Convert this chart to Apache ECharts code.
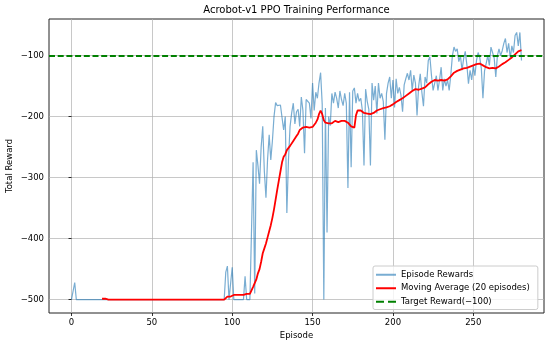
<!DOCTYPE html>
<html><head><meta charset="utf-8">
<script src="https://cdn.jsdelivr.net/npm/echarts@6/dist/echarts.min.js"></script>
<style>html,body{margin:0;padding:0;background:#fff}#c{width:550px;height:346px}</style>
</head><body><div id="c"></div>
<script>
const TITLE = 'Acrobot-v1 PPO Training Performance';
const X_LABEL = 'Episode';
const Y_LABEL = 'Total Reward';
const X_TICKS = [0, 50, 100, 150, 200, 250];
const Y_TICKS = [-500, -400, -300, -200, -100];
const TARGET = -100;
const MA_START = 19; // first episode of the 20-episode moving average
const SERIES_NAMES = ['Episode Rewards', 'Moving Average (20 episodes)', 'Target Reward(\u2212100)'];

// episodes 0..280
const episodeRewards = [
  -500,-500,-472,-500,-500,-500,-500,-500,-500,-500, // 0
  -500,-500,-500,-500,-500,-500,-500,-500,-500,-500, // 10
  -500,-500,-500,-500,-500,-500,-500,-500,-500,-500, // 20
  -500,-500,-500,-500,-500,-500,-500,-500,-500,-500, // 30
  -500,-500,-500,-500,-500,-500,-500,-500,-500,-500, // 40
  -500,-500,-500,-500,-500,-500,-500,-500,-500,-500, // 50
  -500,-500,-500,-500,-500,-500,-500,-500,-500,-500, // 60
  -500,-500,-500,-500,-500,-500,-500,-500,-500,-500, // 70
  -500,-500,-500,-500,-500,-500,-500,-500,-500,-500, // 80
  -500,-500,-500,-500,-500,-500,-455,-445,-500,-500, // 90
  -447,-500,-500,-500,-500,-500,-500,-500,-462,-500, // 100
  -500,-500,-500,-275,-490,-255,-280,-310,-250,-216, // 110
  -290,-333,-270,-230,-271,-240,-200,-177,-182,-184, // 120
  -181,-180,-222,-200,-358,-271,-216,-194,-178,-212, // 130
  -192,-188,-216,-168,-190,-260,-172,-170,-178,-203, // 140
  -145,-190,-160,-170,-145,-128,-180,-500,-186,-390, // 150
  -200,-215,-162,-178,-160,-170,-186,-158,-172,-182, // 160
  -162,-178,-317,-160,-283,-158,-153,-178,-162,-175, // 170
  -170,-190,-280,-155,-175,-188,-280,-145,-173,-150, // 180
  -195,-145,-170,-162,-175,-238,-162,-145,-135,-170, // 190
  -140,-185,-138,-162,-152,-165,-192,-148,-138,-129, // 200
  -140,-124,-157,-132,-145,-198,-150,-130,-160,-183, // 210
  -135,-145,-108,-102,-133,-157,-145,-133,-157,-140, // 220
  -119,-157,-138,-150,-140,-157,-132,-100,-86,-93,   // 230
  -89,-110,-100,-124,-105,-93,-115,-146,-124,-140,   // 240
  -116,-133,-108,-95,-103,-121,-170,-125,-113,-100,  // 250
  -116,-86,-88,-104,-135,-100,-89,-100,-92,-80,      // 260
  -72,-95,-80,-104,-84,-95,-67,-62,-84,-62,          // 270
  -108                                               // 280
];

// episodes 19..280
const movingAverage = [
  -498.6,                                                            // 19
  -498.6,-498.6,-500,-500,-500,-500,-500,-500,-500,-500,             // 20
  -500,-500,-500,-500,-500,-500,-500,-500,-500,-500,                 // 30
  -500,-500,-500,-500,-500,-500,-500,-500,-500,-500,                 // 40
  -500,-500,-500,-500,-500,-500,-500,-500,-500,-500,                 // 50
  -500,-500,-500,-500,-500,-500,-500,-500,-500,-500,                 // 60
  -500,-500,-500,-500,-500,-500,-500,-500,-500,-500,                 // 70
  -500,-500,-500,-500,-500,-500,-500,-500,-500,-500,                 // 80
  -500,-500,-500,-500,-500,-500,-497.8,-495,-495,-495,               // 90
  -492.4,-492.4,-492.4,-492.4,-492.4,-492.4,-492.4,-492.4,-490.5,-490.5, // 100
  -490.5,-490.5,-490.5,-479,-478.5,-467,-457,-450,-438,-424,         // 110
  -416,-408,-398,-388,-378,-366,-352,-336,-320,-305,                 // 120
  -290,-275,-266,-262,-255,-252,-248,-246,-240,-238,                 // 130
  -232,-228,-222,-220,-218,-218,-217,-217,-218,-218,                 // 140
  -217,-214,-210,-205,-196,-190,-196,-206,-210,-212,                 // 150
  -211,-212,-211,-209,-207,-208,-209,-208,-207,-208,                 // 160
  -207,-208,-210,-212,-216,-219,-218,-198,-190,-188,                 // 170
  -190,-192,-194,-193,-195,-194,-196,-193,-194,-192,                 // 180
  -190,-188,-188,-187,-186,-186,-185,-184,-183,-182,                 // 190
  -180,-178,-176,-175,-173,-171,-170,-168,-166,-164,                 // 200
  -162,-160,-158,-157,-155,-155,-156,-155,-154,-154,                 // 210
  -152,-150,-147,-145,-143,-141,-140,-140,-141,-141,                 // 220
  -140,-141,-141,-140,-139,-137,-134,-131,-128,-126,                 // 230
  -125,-124,-123,-122,-121,-120,-120,-119,-118,-117,                 // 240
  -116,-115,-114,-114,-113,-114,-116,-118,-119,-120,                 // 250
  -121,-121,-120,-120,-121,-120,-118,-116,-114,-113,                 // 260
  -111,-109,-107,-105,-103,-101,-98,-95,-93,-91,                     // 270
  -91                                                                // 280
];

const FONT = 'DejaVu Sans';
const fmt = v => (v < 0 ? '\u2212' + Math.abs(v) : String(v));

const chart = echarts.init(document.getElementById('c'), null, {renderer: 'canvas'});
chart.setOption({
  animation: false,
  backgroundColor: '#fff',
  grid: {left: 49, right: 6, top: 19, bottom: 33, show: true, borderColor: '#222', borderWidth: 1, backgroundColor: 'transparent'},
  graphic: [
    {type: 'text', x: 296.5, y: 10, style: {text: TITLE, font: '10px "DejaVu Sans"', fill: '#000', align: 'center', verticalAlign: 'middle'}},
    {type: 'text', x: 296.5, y: 336, style: {text: X_LABEL, font: '8.5px "DejaVu Sans"', fill: '#000', align: 'center', verticalAlign: 'middle'}},
    {type: 'text', x: 10, y: 166, rotation: Math.PI / 2, style: {text: Y_LABEL, font: '8.5px "DejaVu Sans"', fill: '#000', align: 'center', verticalAlign: 'middle'}}
  ],
  legend: {
    orient: 'vertical', left: 373, top: 266,
    data: [
      {name: SERIES_NAMES[0], icon: 'rect'},
      {name: SERIES_NAMES[1], icon: 'rect'},
      {name: SERIES_NAMES[2], icon: 'path://M0,0h8v2h-8zM12,0h8v2h-8z'}
    ],
    itemWidth: 20, itemHeight: 2, itemGap: 4,
    textStyle: {fontFamily: FONT, fontSize: 8.5, color: '#000', lineHeight: 9.5},
    backgroundColor: 'rgba(255,255,255,0.8)', borderColor: '#ccc', borderWidth: 1, borderRadius: 2,
    padding: [4, 8, 3, 3]
  },
  xAxis: {
    type: 'value', min: -14, max: 294,
    axisLine: {show: false},
    axisTick: {show: true, length: 3, lineStyle: {color: '#000', width: 0.8}, customValues: X_TICKS},
    axisLabel: {customValues: X_TICKS, formatter: fmt, color: '#000', fontFamily: FONT, fontSize: 8.5, margin: 5},
    splitLine: {show: true, lineStyle: {color: '#b0b0b0', width: 0.7}}
  },
  yAxis: {
    type: 'value', min: -522, max: -40,
    axisLine: {show: false},
    axisTick: {show: true, length: 3, lineStyle: {color: '#000', width: 0.8}, customValues: Y_TICKS},
    axisLabel: {customValues: Y_TICKS, formatter: fmt, color: '#000', fontFamily: FONT, fontSize: 8.5, margin: 5},
    splitLine: {show: true, lineStyle: {color: '#b0b0b0', width: 0.7}}
  },
  series: [
    {
      name: SERIES_NAMES[0], type: 'line', symbol: 'none', showSymbol: false,
      data: episodeRewards.map((v, i) => [i, v]),
      lineStyle: {color: 'rgba(31,119,180,0.6)', width: 1.2},
      itemStyle: {color: 'rgba(31,119,180,0.6)'}
    },
    {
      name: SERIES_NAMES[1], type: 'line', symbol: 'none', showSymbol: false,
      data: movingAverage.map((v, i) => [i + MA_START, v]),
      lineStyle: {color: '#ff0000', width: 1.8},
      itemStyle: {color: '#ff0000'}
    },
    {
      name: SERIES_NAMES[2], type: 'line', symbol: 'none', showSymbol: false,
      data: [],
      lineStyle: {color: '#008000', width: 1.8, type: [6, 2.7]},
      itemStyle: {color: '#008000'},
      markLine: {
        silent: true, symbol: 'none', label: {show: false},
        lineStyle: {color: '#008000', width: 1.8, type: [6, 2.7]},
        data: [{yAxis: TARGET}]
      }
    }
  ]
});
</script>
</body></html>
